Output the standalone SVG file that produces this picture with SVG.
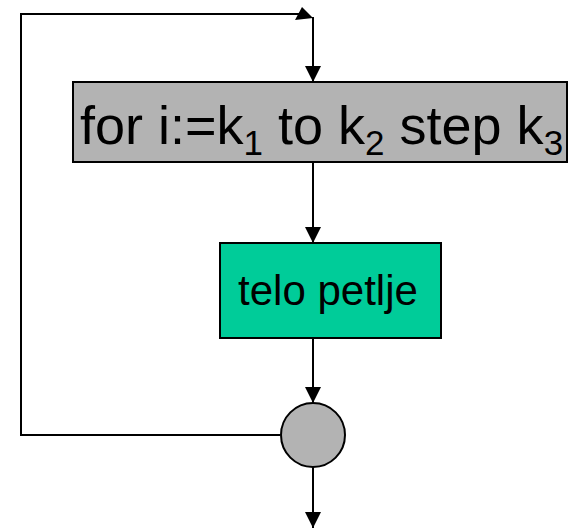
<svg xmlns="http://www.w3.org/2000/svg" width="569" height="529" viewBox="0 0 569 529">
  <defs>
    <marker id="arrow" viewBox="0 0 16 16" refX="16" refY="8" markerWidth="16" markerHeight="16" markerUnits="userSpaceOnUse" orient="auto">
      <path d="M0,0 L16,8 L0,16 Z" fill="#000"/>
    </marker>
    <style>
      .box { stroke: #000; stroke-width: 2; }
      .wire { fill: none; stroke: #000; stroke-width: 2; }
      .lbl { font-family: "Liberation Sans", Arial, sans-serif; fill: #000; }
    </style>
  </defs>

  <g id="connectors">
    <!-- loop back from the junction to the top -->
    <polyline class="wire" points="280,435 21,435 21,14 300,14"/>
    <polygon points="295,20 302,7 313,18" fill="#000"/>
    <line class="wire" x1="313" y1="17" x2="313" y2="82" marker-end="url(#arrow)"/>
    <line class="wire" x1="313" y1="163" x2="313" y2="243" marker-end="url(#arrow)"/>
    <line class="wire" x1="313" y1="338" x2="313" y2="403" marker-end="url(#arrow)"/>
    <line class="wire" x1="313" y1="467" x2="313" y2="528" marker-end="url(#arrow)"/>
  </g>

  <g id="for-header">
    <rect class="box" x="73" y="82" width="494" height="80" fill="#b3b3b3"/>
    <text class="lbl" x="80" y="144" font-size="54">for i:=k<tspan font-size="35" dy="11">1</tspan><tspan dy="-11"> to k</tspan><tspan font-size="35" dy="11">2</tspan><tspan dy="-11"> step k</tspan><tspan font-size="35" dy="11">3</tspan></text>
  </g>

  <g id="loop-body">
    <rect class="box" x="220" y="243" width="221" height="95" fill="#00cc99"/>
    <text class="lbl" x="328" y="305" font-size="42" text-anchor="middle">telo petlje</text>
  </g>

  <g id="junction">
    <circle class="box" cx="313" cy="435" r="32" fill="#b3b3b3"/>
  </g>
</svg>
